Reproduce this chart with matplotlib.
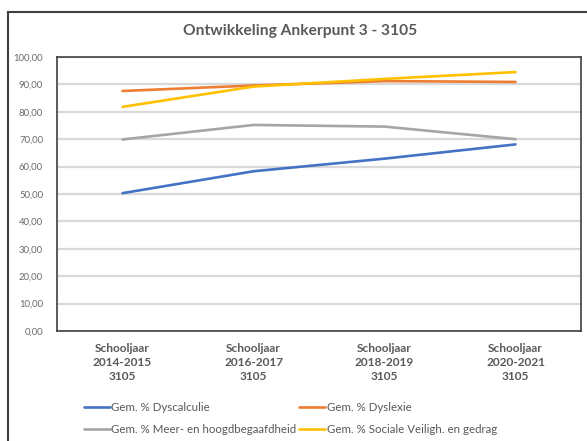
import matplotlib
matplotlib.use("Agg")
import matplotlib.pyplot as plt
from matplotlib.lines import Line2D

plt.rcParams['font.family'] = ['Lato', 'DejaVu Sans']

categories = ["Schooljaar\n2014-2015\n3105", "Schooljaar\n2016-2017\n3105",
              "Schooljaar\n2018-2019\n3105", "Schooljaar\n2020-2021\n3105"]
dyscalculie = [50.3, 58.3, 62.9, 68.1]
dyslexie = [87.6, 89.6, 91.2, 90.9]
meer_hoog = [69.9, 75.2, 74.6, 70.0]
sociale = [81.8, 89.2, 92.0, 94.5]
labels = ["Gem. % Dyscalculie", "Gem. % Dyslexie",
          "Gem. % Meer- en hoogdbegaafdheid", "Gem. % Sociale Veiligh. en gedrag"]
colors = ["#4472C4", "#ED7D31", "#A5A5A5", "#FFC000"]
yticks = [0, 10, 20, 30, 40, 50, 60, 70, 80, 90, 100]

fig = plt.figure(figsize=(5.87, 4.41), dpi=100)
ax = fig.add_axes([57/587, 1-331/441, (581-57)/587, (331-57)/441])

x = range(len(categories))
series = [dyscalculie, dyslexie, meer_hoog, sociale]
handles = []
for s, c, l in zip(series, colors, labels):
    h, = ax.plot(x, s, color=c, lw=1.9, solid_capstyle='round', label=l, zorder=3)
    handles.append(h)

ax.set_xlim(-0.5, len(categories)-0.5)
ax.set_ylim(0, 100)
ax.set_yticks(yticks)
ax.set_yticklabels([f"{v:.2f}".replace('.', ',') for v in yticks], fontsize=6.8, color="#6A6A6A")
ax.set_xticks(list(x))
ax.set_xticklabels(categories, fontsize=8.6, fontweight='bold', color="#595959", linespacing=1.3)
ax.tick_params(length=0)
ax.tick_params(axis='y', pad=10)
ax.tick_params(axis='x', pad=9)
ax.grid(axis='y', color='#D9D9D9', lw=1.6, zorder=0)
for sp in ax.spines.values():
    sp.set_color('#404040')
    sp.set_linewidth(1.2)

fig.text(300/587, 1-31/441, "Ontwikkeling Ankerpunt 3 - 3105", ha='center', va='center',
         fontsize=11.2, fontweight='bold', color='#595959')

# outer frame (partial, as in reference)
fig.add_artist(Line2D([8/587, 8/587], [0, 1-12/441], transform=fig.transFigure, color='#404040', lw=1.5))
fig.add_artist(Line2D([8/587, 1], [1-12/441, 1-12/441], transform=fig.transFigure, color='#404040', lw=1.5))

leg = fig.legend([handles[0], handles[2], handles[1], handles[3]],
                 [labels[0], labels[2], labels[1], labels[3]],
                 ncol=2, loc='upper left', bbox_to_anchor=(78/587, 1-396/441),
                 frameon=False, fontsize=8.3, handlelength=2.3, handletextpad=0.1,
                 columnspacing=0.2, labelspacing=0.95, borderpad=0)
for t in leg.get_texts():
    t.set_color('#595959')

fig.savefig("out.png", dpi=100)
